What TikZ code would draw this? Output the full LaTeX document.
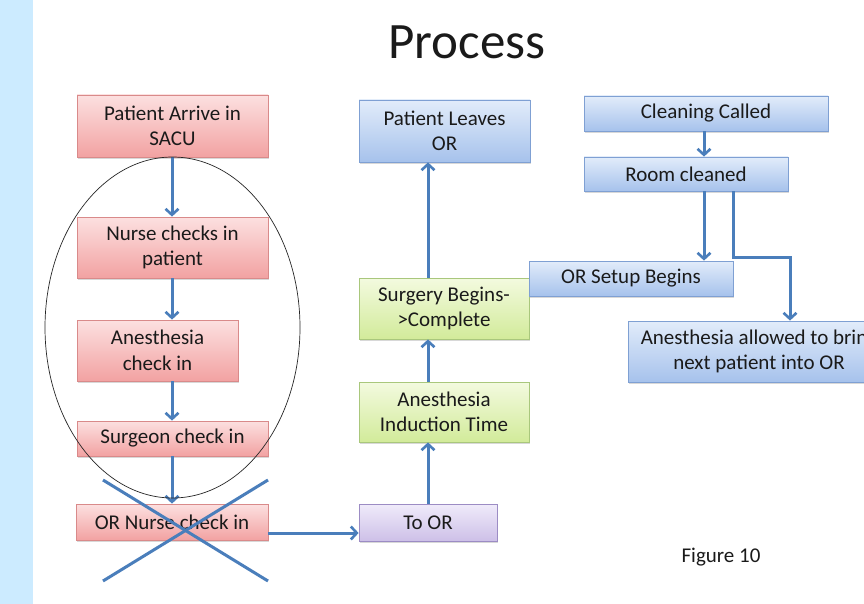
\documentclass[tikz,border=0pt]{standalone}
\usepackage{fontspec}
\setmainfont{Carlito}
\usetikzlibrary{arrows.meta,shadows,shapes.geometric}
\definecolor{stripe}{HTML}{CCEBFF}
\definecolor{arr}{HTML}{4A7EBB}
\definecolor{redtop}{HTML}{FCE0E0}
\definecolor{redbot}{HTML}{F2A2A2}
\definecolor{redline}{HTML}{D98A8A}
\definecolor{grntop}{HTML}{F3FADF}
\definecolor{grnbot}{HTML}{D2EB9A}
\definecolor{grnline}{HTML}{A9C77C}
\definecolor{blutop}{HTML}{E2ECFA}
\definecolor{blubot}{HTML}{A6C2EC}
\definecolor{bluline}{HTML}{7FA0D3}
\definecolor{purtop}{HTML}{F0EBFA}
\definecolor{purbot}{HTML}{CDC0E8}
\definecolor{purline}{HTML}{9C8CC4}
\definecolor{txt}{HTML}{1A1A1A}
\tikzset{
  box/.style={rectangle, inner sep=0pt, align=center, line width=0.8pt,
    font=\fontsize{21}{25.5}\selectfont, text=txt,
    drop shadow={shadow xshift=1pt, shadow yshift=-2pt, opacity=0.25, fill=black!60}},
  redbox/.style={box, draw=redline, top color=redtop, bottom color=redbot},
  grnbox/.style={box, draw=grnline, top color=grntop, bottom color=grnbot},
  blubox/.style={box, draw=bluline, top color=blutop, bottom color=blubot},
  purbox/.style={box, draw=purline, top color=purtop, bottom color=purbot},
  flow/.style={draw=arr, line width=3pt, -{Straight Barb[length=6pt,width=13pt,line width=2.6pt]}},
  crossline/.style={draw=arr, line width=3pt},
  ring/.style={draw=black!85, line width=0.7pt, ellipse, inner sep=0pt}
}
\begin{document}
\begin{tikzpicture}[x=1pt,y=-1pt]
\useasboundingbox (0,0) rectangle (864,604);
\clip (0,0) rectangle (864,604);
\fill[white] (0,0) rectangle (864,604);
\fill[stripe] (0,0) rectangle (33,604);

\node[font=\fontsize{51}{60}\selectfont, text=txt] (title) at (467,42) {Process};

% left column
\node[redbox, minimum width=191pt, minimum height=62pt] (pa) at (172.5,126) {Patient Arrive in\\SACU};
\node[redbox, minimum width=191pt, minimum height=61pt] (nc) at (172.5,247.5) {Nurse checks in\\patient};
\node[redbox, minimum width=161pt, minimum height=61pt] (ac) at (157.5,350.5) {Anesthesia\\check in};
\node[redbox, minimum width=191pt, minimum height=35pt] (sc) at (172.5,438.5) {Surgeon check in};
\node[redbox, minimum width=192pt, minimum height=36pt] (orn) at (172,522) {OR Nurse check in};

% middle column
\node[purbox, minimum width=138pt, minimum height=37pt] (toor) at (428,522.5) {To OR};
\node[grnbox, minimum width=170pt, minimum height=60pt] (aind) at (444,412) {Anesthesia\\Induction Time};
\node[grnbox, minimum width=170pt, minimum height=61pt] (surg) at (444,308.5) {Surgery Begins-\\>Complete};
\node[blubox, minimum width=171pt, minimum height=62pt] (pl) at (444.5,131) {Patient Leaves\\OR};

% right column
\node[blubox, minimum width=244pt, minimum height=35pt] (clean) at (706,113.5) {Cleaning Called};
\node[blubox, minimum width=204pt, minimum height=34pt] (room) at (686,174) {Room cleaned};
\node[blubox, minimum width=204pt, minimum height=35pt] (orsu) at (631,278.5) {OR Setup Begins};
\node[blubox, minimum width=262pt, minimum height=61pt] (anall) at (759,351.5) {Anesthesia allowed to bring\\next patient into OR};

\node[font=\fontsize{21}{25}\selectfont, text=txt] (fig) at (721,557) {Figure 10};

% helper coordinates
\coordinate (lx) at (172,0);
\coordinate (mx) at (428,0);
\coordinate (rx1) at (704,0);
\coordinate (rx2) at (733,0);
\coordinate (bend) at (790,257);
\coordinate (o1) at (268,533);

% connectors
\draw[flow] (pa.south -| lx) -- (nc.north -| lx);
\draw[flow] (nc.south -| lx) -- (ac.north -| lx);
\draw[flow] (ac.south -| lx) -- (sc.north -| lx);
\draw[flow] (sc.south -| lx) -- (orn.north -| lx);
\draw[flow] (o1) -- (o1 -| toor.west);
\draw[flow] (toor.north -| mx) -- (aind.south -| mx);
\draw[flow] (aind.north -| mx) -- (surg.south -| mx);
\draw[flow] (surg.north -| mx) -- (pl.south -| mx);
\draw[flow] (clean.south -| rx1) -- (room.north -| rx1);
\draw[flow] (room.south -| rx1) -- (orsu.north -| rx1);
\draw[flow] (room.south -| rx2) |- (bend) -- (anall.north -| bend);

% ellipse grouping
\node[ring, minimum width=255pt, minimum height=341pt] (grp) at (172.5,327.5) {};

% cross
\coordinate (c1) at (103,480);
\coordinate (c2) at (268,581);
\coordinate (c3) at (268,480);
\coordinate (c4) at (103,581);
\draw[crossline] (c1) -- (c2);
\draw[crossline] (c3) -- (c4);
\end{tikzpicture}
\end{document}
